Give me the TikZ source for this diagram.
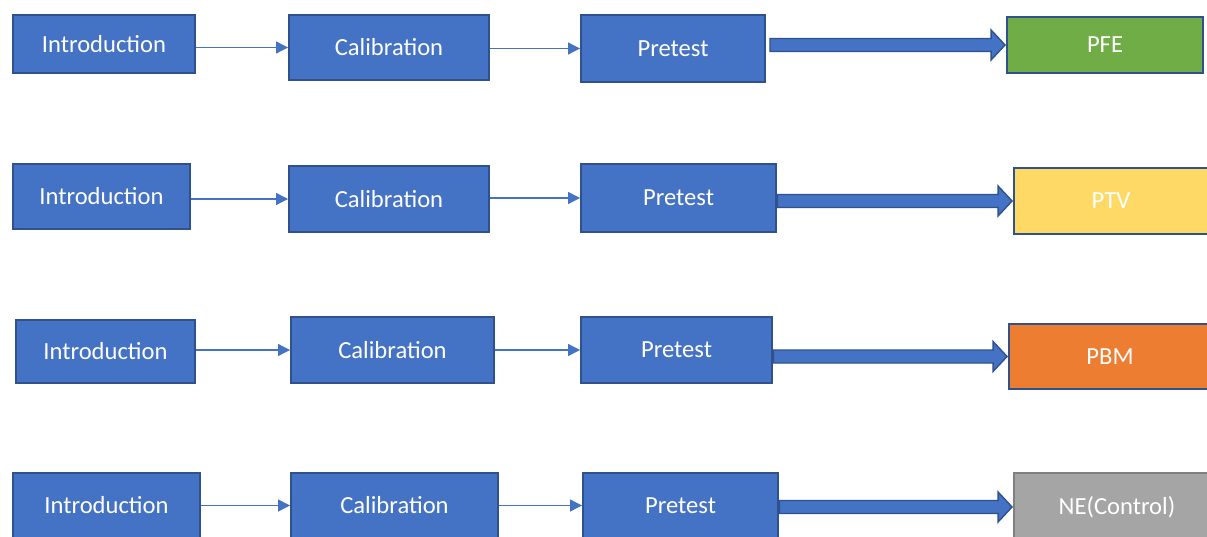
\documentclass[tikz,border=0pt]{standalone}
\usepackage{fontspec}
\setmainfont{Carlito}
\usepackage{xcolor}
\usetikzlibrary{arrows.meta, calc}
\definecolor{boxblue}{HTML}{4472C4}
\definecolor{edgeblue}{HTML}{2F528F}
\definecolor{grpgreen}{HTML}{70AD47}
\definecolor{grpyellow}{HTML}{FFD966}
\definecolor{grporange}{HTML}{ED7D31}
\definecolor{grpgray}{HTML}{A5A5A5}
\definecolor{edgegray}{HTML}{7F7F7F}
\tikzset{
    stage/.style={rectangle, draw=edgeblue, line width=1.1pt, fill=boxblue, text=white, align=center, font=\fontsize{14}{17}\selectfont, inner sep=0pt},
    group/.style={stage},
    thinarr/.style={-{Triangle[length=0.24cm, width=0.24cm]}, line width=0.6pt, boxblue},
    fatarr/.style={draw=edgeblue, line width=0.8pt, fill=boxblue, line join=miter}
}

\begin{document}
\begin{tikzpicture}[x=0.02cm, y=-0.02cm]
        \useasboundingbox (0,0) rectangle (1207,537);
        \clip (0,0) rectangle (1207,537);
        % row 1
        \node[stage, minimum width=3.64cm, minimum height=1.16cm] (intro1) at (104,44) {Introduction};
        \node[stage, minimum width=4.0cm, minimum height=1.3cm] (cal1) at (389,47.5) {Calibration};
        \node[stage, minimum width=3.68cm, minimum height=1.34cm] (pre1) at (673,48.5) {Pretest};
        \node[group, fill=grpgreen, minimum width=3.92cm, minimum height=1.12cm] (pfe) at (1105,45) {PFE};
        % row 2
        \node[stage, minimum width=3.54cm, minimum height=1.3cm] (intro2) at (101.5,196.5) {Introduction};
        \node[stage, minimum width=4.0cm, minimum height=1.32cm] (cal2) at (389,199) {Calibration};
        \node[stage, minimum width=3.9cm, minimum height=1.36cm] (pre2) at (678.5,198) {Pretest};
        \node[group, fill=grpyellow, minimum width=3.88cm, minimum height=1.32cm] (ptv) at (1111,201) {PTV};
        % row 3
        \node[stage, minimum width=3.58cm, minimum height=1.26cm] (intro3) at (105.5,351.5) {Introduction};
        \node[stage, minimum width=4.06cm, minimum height=1.32cm] (cal3) at (392.5,350) {Calibration};
        \node[stage, minimum width=3.82cm, minimum height=1.32cm] (pre3) at (676.5,350) {Pretest};
        \node[group, fill=grporange, minimum width=4.04cm, minimum height=1.3cm] (pbm) at (1110,356.5) {PBM};
        % row 4
        \node[stage, minimum width=3.74cm, minimum height=1.3cm] (intro4) at (106.5,505.5) {Introduction};
        \node[stage, minimum width=4.14cm, minimum height=1.3cm] (cal4) at (394.5,505.5) {Calibration};
        \node[stage, minimum width=3.9cm, minimum height=1.3cm] (pre4) at (680.5,505.5) {Pretest};
        \node[group, draw=edgegray, fill=grpgray, minimum width=4.12cm, minimum height=1.36cm] (ne) at (1117,507) {NE(Control)};
        % thin arrows
        \foreach \s/\t in {intro1/cal1, cal1/pre1, intro2/cal2, cal2/pre2, intro3/cal3, cal3/pre3, intro4/cal4, cal4/pre4}
            \draw[thinarr] (\s.east |- \t.west) -- (\t.west);
        % thick arrows
        \foreach \s/\t/\g in {pre1/pfe/0.08cm, pre2/ptv/0.01cm, pre3/pbm/0.01cm, pre4/ne/0.01cm}
            \draw[fatarr] let \p1=(\s.east), \p2=(\t.west) in
                (\x1+\g,\y2+0.13cm) -- (\x2-0.3cm,\y2+0.13cm) -- (\x2-0.3cm,\y2+0.3cm)
                -- (\x2-0.02cm,\y2) -- (\x2-0.3cm,\y2-0.3cm) -- (\x2-0.3cm,\y2-0.13cm)
                -- (\x1+\g,\y2-0.13cm) -- cycle;
    \end{tikzpicture}
\end{document}
